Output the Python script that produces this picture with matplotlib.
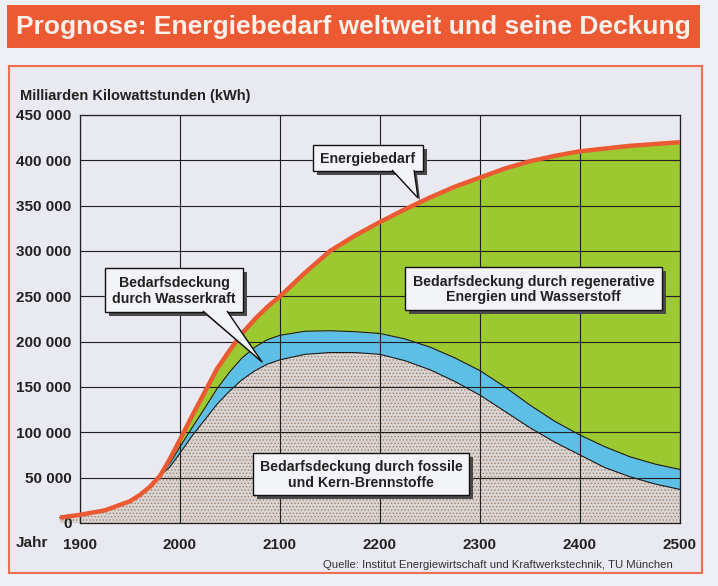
import matplotlib
matplotlib.use('Agg')
from matplotlib import pyplot as plt
from matplotlib.patches import Rectangle, Polygon

# data (Milliarden kWh)
years = [1880, 1900, 1925, 1950, 1960, 1970, 1980, 1990, 2000, 2012, 2025, 2037,
         2050, 2062, 2075, 2087, 2100, 2125, 2150, 2175, 2200, 2225, 2250, 2275,
         2300, 2325, 2350, 2375, 2400, 2425, 2450, 2475, 2500]
bedarf = [6000, 9000, 14000, 24000, 31000, 40000, 52000, 71000, 92000, 118000,
          145000, 170000, 191000, 209000, 225000, 238000, 250000, 276000, 300000,
          317000, 332000, 346000, 359000, 371000, 381000, 391000, 399000, 405000,
          410000, 413000, 416000, 418000, 420000]
fossil_plus_wasser = [6000, 9000, 14000, 24000, 31000, 40000, 52000, 66000, 84000,
                      105000, 127000, 148000, 167000, 182000, 194000, 202000, 207000,
                      211500, 212000, 211000, 209000, 203000, 194000, 182000, 168000,
                      150000, 130000, 112000, 97000, 84000, 73000, 65000, 59000]
fossil = [6000, 9000, 14000, 24000, 31000, 40000, 52000, 62000, 77000, 96000,
          114000, 131000, 146000, 158000, 168000, 175000, 180000, 186000, 188000,
          188000, 186000, 179000, 169000, 156000, 141000, 123000, 105000, 89000,
          75000, 61000, 51000, 43000, 37000]

x_ticks = [1900, 2000, 2100, 2200, 2300, 2400, 2500]
y_ticks = [0, 50000, 100000, 150000, 200000, 250000, 300000, 350000, 400000, 450000]
y_labels = ['0', '50 000', '100 000', '150 000', '200 000', '250 000', '300 000',
            '350 000', '400 000', '450 000']

NARROW = ['Liberation Sans Narrow', 'Liberation Sans']
RED = '#ec5a34'
PANEL = '#e8e9f1'

plt.rcParams['hatch.color'] = '#a57e68'
plt.rcParams['hatch.linewidth'] = 0.6

W, H = 718, 586
fig = plt.figure(figsize=(W / 100, H / 100), dpi=100)
fig.patch.set_facecolor('#eff0f5')


def px(x, y):
    return (x / W, 1 - y / H)


def rect(x0, y0, x1, y1, **kw):
    r = Rectangle(px(x0, y1), (x1 - x0) / W, (y1 - y0) / H,
                  transform=fig.transFigure, **kw)
    fig.add_artist(r)
    return r


# title banner and panel
rect(7, 5, 700, 48, facecolor=RED, edgecolor='none', zorder=-1)
fig.text(*px(353, 27), 'Prognose: Energiebedarf weltweit und seine Deckung',
         ha='center', va='center', color='#fbf0ec', fontsize=19,
         fontweight='bold', family=NARROW)
rect(9, 66, 702, 573, facecolor=PANEL, edgecolor='#ee7050', linewidth=1.5, zorder=-1)

ax = fig.add_axes([80 / W, 1 - 523 / H, 600 / W, 408 / H])
ax.set_facecolor(PANEL)
ax.set_xlim(1900, 2500)
ax.set_ylim(0, 450000)

ax.fill_between(years, fossil_plus_wasser, bedarf, color='#9cc830', lw=0,
                clip_on=False, zorder=1)
ax.fill_between(years, fossil, fossil_plus_wasser, color='#5ebfe6', lw=0,
                clip_on=False, zorder=1)
ax.fill_between(years, 0, fossil, facecolor='#d8d5d4', hatch='.....', lw=0,
                clip_on=False, zorder=1)
ax.plot(years, fossil_plus_wasser, color='#1a1a1a', lw=0.8, clip_on=False, zorder=2)
ax.plot(years, fossil, color='#1a1a1a', lw=0.8, clip_on=False, zorder=2)
ax.plot(years, bedarf, color=RED, lw=3.2, clip_on=False, zorder=3,
        solid_capstyle='butt', solid_joinstyle='round')

ax.set_axisbelow(False)
ax.grid(color='#202020', lw=0.8)
for s in ax.spines.values():
    s.set_color('#202020')
    s.set_linewidth(0.9)

ax.set_xticks(x_ticks)
ax.set_xticklabels([str(x) for x in x_ticks])
ax.set_yticks(y_ticks)
ax.set_yticklabels(y_labels)
ax.tick_params(length=0, labelsize=11, colors='#222222')
ax.tick_params(axis='x', pad=11)
ax.tick_params(axis='y', pad=6)
for lab in ax.get_xticklabels() + ax.get_yticklabels():
    lab.set_fontweight('bold')
    lab.set_family(NARROW)

fig.text(*px(20, 96), 'Milliarden Kilowattstunden (kWh)', ha='left', va='center',
         fontsize=10.5, fontweight='bold', family=NARROW, color='#222222')
fig.text(*px(16, 543), 'Jahr', ha='left', va='center', fontsize=11,
         fontweight='bold', family=NARROW, color='#222222')
fig.text(*px(673, 565), 'Quelle: Institut Energiewirtschaft und Kraftwerkstechnik, TU München',
         ha='right', va='center', fontsize=8.2, family=['Liberation Sans', 'DejaVu Sans'],
         color='#333333')


def callout(x0, y0, x1, y1, text, pointer=None):
    rect(x0 + 4, y0 + 4, x1 + 4, y1 + 4, facecolor='#4a4a4a', edgecolor='none', zorder=5)
    if pointer is not None:
        (bx0, bx1, tx, ty) = pointer
        fig.add_artist(Polygon([px(bx0 + 3, y1 + 3), px(tx + 2, ty + 2), px(bx1 + 3, y1 + 3)],
                               closed=True, transform=fig.transFigure,
                               facecolor='#4a4a4a', edgecolor='none', zorder=5))
    rect(x0, y0, x1, y1, facecolor='#f3f4f8', edgecolor='#111111', linewidth=1, zorder=6)
    if pointer is not None:
        fig.add_artist(Polygon([px(bx0, y1 - 1), px(tx, ty), px(bx1, y1 - 1)],
                               closed=False, transform=fig.transFigure,
                               facecolor='#f3f4f8', edgecolor='#111111',
                               linewidth=1, zorder=7))
    fig.text(*px((x0 + x1) / 2, (y0 + y1) / 2 + 1), text, ha='center', va='center',
             fontsize=10.2, fontweight='bold', family=NARROW, color='#222222',
             linespacing=1.1, zorder=8)


callout(313, 145, 423, 171, 'Energiebedarf', pointer=(392, 414, 418, 198))
callout(105, 268, 243, 312, 'Bedarfsdeckung\ndurch Wasserkraft', pointer=(203, 227, 262, 362))
callout(405, 267, 662, 310, 'Bedarfsdeckung durch regenerative\nEnergien und Wasserstoff')
callout(253, 453, 469, 495, 'Bedarfsdeckung durch fossile\nund Kern-Brennstoffe')

fig.savefig('out.png', dpi=100, facecolor=fig.get_facecolor())
plt.close(fig)
